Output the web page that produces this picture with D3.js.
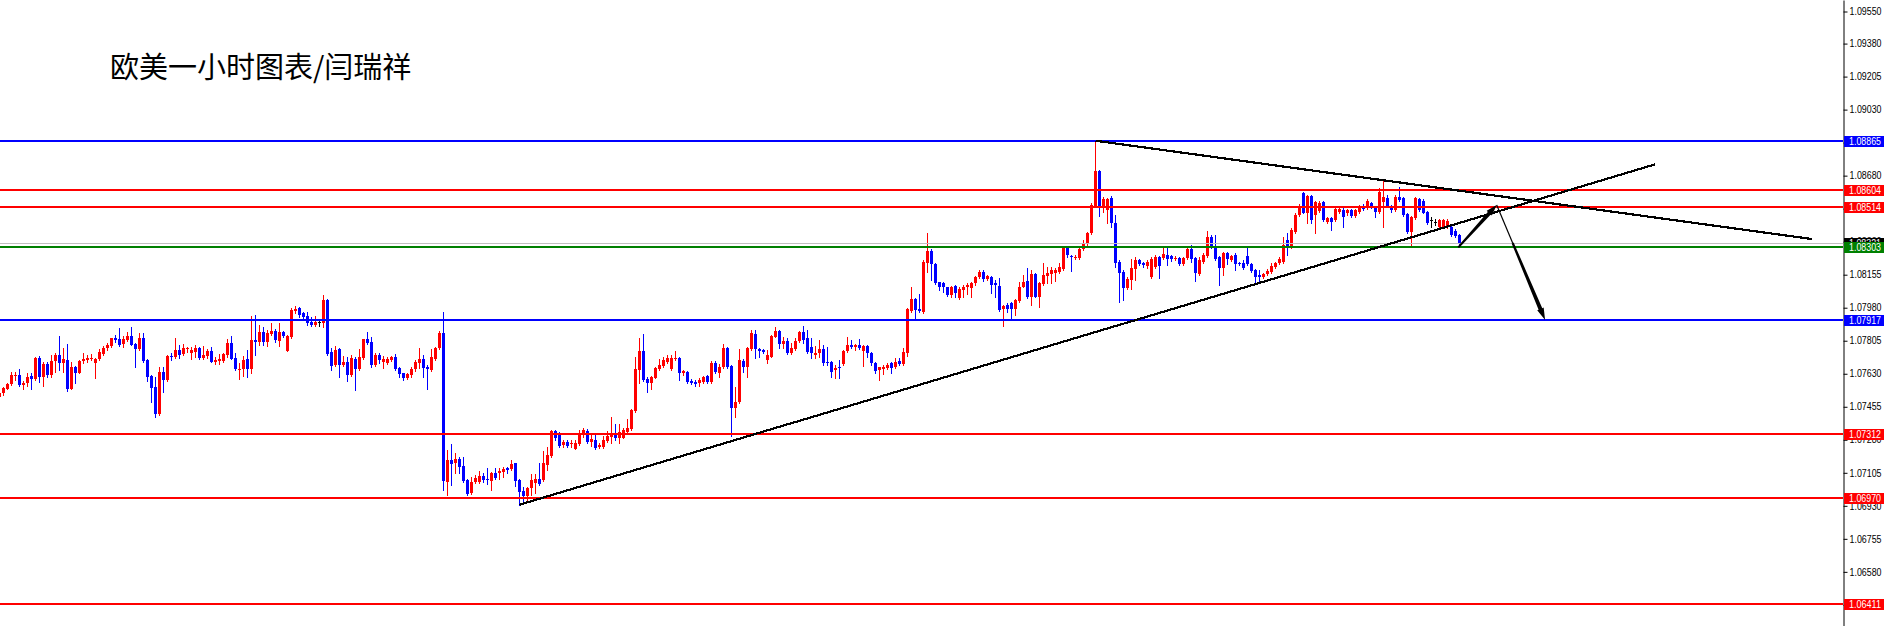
<!DOCTYPE html>
<html><head><meta charset="utf-8">
<script src="https://cdn.jsdelivr.net/npm/d3@7"></script>
<style>html,body{margin:0;padding:0;background:#fff;overflow:hidden}</style>
</head><body>
<svg id="c" width="1884" height="626"></svg>
<script>
const openP = [
1.07509,1.07526,1.07551,1.07576,1.07620,1.07623,1.07572,1.07579,1.07618,1.07601,
1.07712,1.07615,1.07682,1.07623,1.07698,1.07729,1.07689,1.07703,1.07551,1.07664,
1.07636,1.07698,1.07703,1.07708,1.07689,1.07707,1.07735,1.07765,1.07777,1.07821,
1.07813,1.07786,1.07809,1.07830,1.07788,1.07760,1.07820,1.07703,1.07618,1.07558,
1.07417,1.07639,1.07597,1.07724,1.07717,1.07756,1.07733,1.07760,1.07742,1.07747,
1.07768,1.07715,1.07724,1.07751,1.07694,1.07699,1.07699,1.07729,1.07793,1.07714,
1.07654,1.07654,1.07708,1.07654,1.07809,1.07800,1.07853,1.07800,1.07841,1.07858,
1.07805,1.07851,1.07752,1.07823,1.07961,1.07980,1.07950,1.07936,1.07906,1.07889,
1.07903,1.07901,1.08021,1.07745,1.07675,1.07760,1.07677,1.07694,1.07623,1.07710,
1.07655,1.07714,1.07814,1.07798,1.07677,1.07729,1.07694,1.07685,1.07703,1.07717,
1.07659,1.07632,1.07606,1.07623,1.07654,1.07689,1.07708,1.07668,1.07650,1.07710,
1.07765,1.07844,1.07058,1.07173,1.07155,1.07178,1.07141,1.07067,1.06996,1.07056,
1.07058,1.07088,1.07072,1.07063,1.07106,1.07102,1.07109,1.07132,1.07123,1.07155,
1.07067,1.07009,1.06982,1.07023,1.07049,1.07072,1.07067,1.07146,1.07196,1.07327,
1.07305,1.07253,1.07270,1.07258,1.07233,1.07258,1.07311,1.07328,1.07270,1.07279,
1.07242,1.07242,1.07275,1.07293,1.07314,1.07288,1.07291,1.07323,1.07337,1.07433,
1.07650,1.07751,1.07604,1.07583,1.07609,1.07655,1.07673,1.07694,1.07655,1.07710,
1.07715,1.07636,1.07641,1.07592,1.07588,1.07579,1.07588,1.07618,1.07588,1.07689,
1.07636,1.07668,1.07768,1.07671,1.07450,1.07482,1.07700,1.07668,1.07760,1.07839,
1.07760,1.07756,1.07703,1.07721,1.07827,1.07857,1.07788,1.07805,1.07742,1.07760,
1.07805,1.07853,1.07818,1.07774,1.07730,1.07738,1.07761,1.07694,1.07692,1.07650,
1.07668,1.07682,1.07751,1.07782,1.07774,1.07782,1.07751,1.07777,1.07742,1.07689,
1.07650,1.07654,1.07659,1.07685,1.07668,1.07699,1.07682,1.07738,1.07964,1.08026,
1.07973,1.07959,1.08219,1.08282,1.08212,1.08115,1.08109,1.08088,1.08047,1.08095,
1.08030,1.08074,1.08088,1.08083,1.08109,1.08141,1.08171,1.08130,1.08145,1.08109,
1.08095,1.07972,1.07994,1.08003,1.07973,1.08016,1.08092,1.08123,1.08039,1.08159,
1.08039,1.08104,1.08148,1.08159,1.08162,1.08171,1.08184,1.08295,1.08254,1.08247,
1.08242,1.08290,1.08316,1.08374,1.08516,1.08705,1.08516,1.08498,1.08563,1.08427,
1.08224,1.08171,1.08083,1.08127,1.08184,1.08233,1.08215,1.08201,1.08145,1.08198,
1.08247,1.08242,1.08260,1.08254,1.08240,1.08244,1.08212,1.08242,1.08290,1.08242,
1.08159,1.08224,1.08254,1.08357,1.08304,1.08247,1.08189,1.08268,1.08233,1.08260,
1.08219,1.08215,1.08254,1.08212,1.08180,1.08154,1.08145,1.08159,1.08171,1.08198,
1.08215,1.08221,1.08339,1.08304,1.08383,1.08472,1.08586,1.08484,1.08572,1.08472,
1.08493,1.08542,1.08436,1.08454,1.08445,1.08489,1.08498,1.08480,1.08498,1.08466,
1.08489,1.08516,1.08507,1.08537,1.08516,1.08489,1.08542,1.08560,1.08519,1.08498,
1.08569,1.08560,1.08477,1.08383,1.08454,1.08555,1.08548,1.08489,1.08443,1.08436,
1.08410,1.08410,1.08410,1.08410,1.08389,1.08366];
const highP = [
1.07535,1.07562,1.07583,1.07639,1.07639,1.07657,1.07594,1.07632,1.07632,1.07717,
1.07724,1.07694,1.07694,1.07729,1.07738,1.07830,1.07765,1.07788,1.07692,1.07671,
1.07703,1.07738,1.07729,1.07733,1.07712,1.07760,1.07777,1.07791,1.07821,1.07834,
1.07873,1.07830,1.07853,1.07880,1.07795,1.07848,1.07848,1.07710,1.07623,1.07615,
1.07668,1.07664,1.07729,1.07738,1.07818,1.07782,1.07788,1.07774,1.07774,1.07782,
1.07770,1.07777,1.07763,1.07770,1.07721,1.07733,1.07742,1.07816,1.07830,1.07738,
1.07685,1.07724,1.07756,1.07936,1.07942,1.07889,1.07880,1.07862,1.07901,1.07867,
1.07897,1.07858,1.07834,1.07977,1.07989,1.07982,1.07959,1.07959,1.07933,1.07936,
1.07915,1.08048,1.08025,1.07765,1.07777,1.07765,1.07724,1.07721,1.07729,1.07721,
1.07760,1.07816,1.07853,1.07823,1.07742,1.07738,1.07724,1.07717,1.07724,1.07735,
1.07668,1.07636,1.07632,1.07664,1.07703,1.07765,1.07729,1.07677,1.07760,1.07774,
1.07857,1.07957,1.07226,1.07258,1.07208,1.07191,1.07191,1.07072,1.07085,1.07094,
1.07116,1.07102,1.07129,1.07111,1.07129,1.07132,1.07138,1.07138,1.07173,1.07159,
1.07072,1.07032,1.07032,1.07099,1.07097,1.07155,1.07222,1.07244,1.07332,1.07330,
1.07323,1.07279,1.07279,1.07279,1.07279,1.07332,1.07341,1.07335,1.07305,1.07305,
1.07261,1.07300,1.07328,1.07403,1.07364,1.07364,1.07341,1.07392,1.07442,1.07717,
1.07818,1.07839,1.07611,1.07618,1.07668,1.07708,1.07717,1.07730,1.07730,1.07752,
1.07721,1.07650,1.07646,1.07601,1.07597,1.07606,1.07618,1.07623,1.07700,1.07700,
1.07682,1.07788,1.07774,1.07677,1.07562,1.07760,1.07707,1.07774,1.07862,1.07862,
1.07765,1.07763,1.07756,1.07835,1.07880,1.07862,1.07827,1.07818,1.07791,1.07818,
1.07859,1.07883,1.07862,1.07818,1.07777,1.07809,1.07782,1.07774,1.07699,1.07676,
1.07703,1.07756,1.07823,1.07809,1.07788,1.07813,1.07782,1.07782,1.07747,1.07694,
1.07668,1.07676,1.07685,1.07694,1.07712,1.07712,1.07765,1.07977,1.08088,1.08030,
1.08051,1.08233,1.08378,1.08290,1.08219,1.08118,1.08118,1.08092,1.08095,1.08099,
1.08088,1.08101,1.08109,1.08118,1.08148,1.08180,1.08180,1.08154,1.08148,1.08127,
1.08136,1.07994,1.08003,1.08012,1.08025,1.08118,1.08154,1.08189,1.08180,1.08162,
1.08118,1.08215,1.08194,1.08198,1.08189,1.08215,1.08304,1.08304,1.08260,1.08260,
1.08295,1.08339,1.08383,1.08533,1.08865,1.08710,1.08569,1.08563,1.08574,1.08472,
1.08233,1.08180,1.08141,1.08237,1.08247,1.08237,1.08222,1.08233,1.08247,1.08260,
1.08254,1.08300,1.08300,1.08260,1.08254,1.08251,1.08247,1.08295,1.08313,1.08247,
1.08247,1.08268,1.08389,1.08366,1.08366,1.08254,1.08277,1.08277,1.08260,1.08268,
1.08224,1.08233,1.08300,1.08219,1.08185,1.08180,1.08166,1.08184,1.08219,1.08224,
1.08247,1.08357,1.08374,1.08401,1.08480,1.08530,1.08595,1.08578,1.08578,1.08548,
1.08548,1.08548,1.08459,1.08459,1.08507,1.08512,1.08507,1.08502,1.08505,1.08505,
1.08525,1.08530,1.08555,1.08542,1.08519,1.08613,1.08654,1.08578,1.08525,1.08578,
1.08618,1.08569,1.08484,1.08466,1.08569,1.08560,1.08555,1.08494,1.08463,1.08449,
1.08449,1.08449,1.08449,1.08418,1.08396,1.08371];
const lowP = [
1.07505,1.07519,1.07548,1.07572,1.07597,1.07565,1.07551,1.07565,1.07551,1.07597,
1.07586,1.07565,1.07615,1.07611,1.07641,1.07650,1.07641,1.07540,1.07548,1.07579,
1.07632,1.07689,1.07692,1.07703,1.07609,1.07703,1.07729,1.07756,1.07770,1.07798,
1.07777,1.07770,1.07804,1.07781,1.07668,1.07756,1.07694,1.07594,1.07482,1.07403,
1.07413,1.07535,1.07594,1.07703,1.07714,1.07712,1.07728,1.07747,1.07708,1.07721,
1.07710,1.07710,1.07715,1.07691,1.07680,1.07682,1.07694,1.07721,1.07707,1.07650,
1.07602,1.07618,1.07615,1.07632,1.07729,1.07782,1.07782,1.07777,1.07836,1.07800,
1.07777,1.07823,1.07749,1.07818,1.07954,1.07933,1.07919,1.07889,1.07883,1.07883,
1.07885,1.07880,1.07729,1.07650,1.07671,1.07615,1.07673,1.07594,1.07618,1.07544,
1.07650,1.07710,1.07788,1.07664,1.07671,1.07685,1.07659,1.07682,1.07699,1.07650,
1.07611,1.07597,1.07602,1.07615,1.07646,1.07659,1.07611,1.07551,1.07646,1.07703,
1.07760,1.07014,1.06988,1.07041,1.07106,1.07106,1.07058,1.06989,1.06993,1.07053,
1.07053,1.07058,1.07046,1.07014,1.07072,1.07070,1.07085,1.07102,1.07120,1.07035,
1.06936,1.06952,1.06961,1.06988,1.06996,1.07041,1.07063,1.07120,1.07191,1.07279,
1.07240,1.07244,1.07244,1.07240,1.07231,1.07253,1.07297,1.07265,1.07247,1.07231,
1.07235,1.07238,1.07270,1.07261,1.07279,1.07265,1.07288,1.07320,1.07334,1.07429,
1.07579,1.07593,1.07535,1.07548,1.07606,1.07650,1.07668,1.07685,1.07650,1.07703,
1.07597,1.07623,1.07583,1.07576,1.07565,1.07565,1.07583,1.07583,1.07583,1.07636,
1.07611,1.07662,1.07659,1.07300,1.07399,1.07477,1.07641,1.07615,1.07756,1.07712,
1.07717,1.07738,1.07685,1.07717,1.07823,1.07765,1.07765,1.07735,1.07735,1.07756,
1.07800,1.07791,1.07738,1.07712,1.07712,1.07717,1.07676,1.07676,1.07615,1.07606,
1.07606,1.07678,1.07747,1.07765,1.07756,1.07760,1.07671,1.07721,1.07676,1.07636,
1.07597,1.07629,1.07654,1.07636,1.07659,1.07676,1.07676,1.07724,1.07959,1.07919,
1.07959,1.07954,1.08171,1.08127,1.08106,1.08074,1.08065,1.08042,1.08039,1.08039,
1.08026,1.08039,1.08053,1.08039,1.08101,1.08136,1.08123,1.08127,1.08056,1.08039,
1.07964,1.07883,1.07959,1.07924,1.07942,1.08012,1.08088,1.08030,1.07994,1.08035,
1.07982,1.08101,1.08109,1.08109,1.08123,1.08166,1.08180,1.08251,1.08177,1.08237,
1.08237,1.08286,1.08313,1.08371,1.08512,1.08468,1.08489,1.08431,1.08410,1.08198,
1.08012,1.08021,1.08078,1.08078,1.08127,1.08207,1.08198,1.08189,1.08136,1.08192,
1.08136,1.08237,1.08207,1.08230,1.08233,1.08207,1.08207,1.08237,1.08224,1.08122,
1.08154,1.08219,1.08251,1.08295,1.08233,1.08101,1.08154,1.08212,1.08230,1.08180,
1.08205,1.08184,1.08207,1.08171,1.08118,1.08109,1.08136,1.08154,1.08166,1.08192,
1.08212,1.08215,1.08260,1.08298,1.08378,1.08466,1.08480,1.08427,1.08427,1.08374,
1.08487,1.08442,1.08431,1.08392,1.08442,1.08484,1.08410,1.08472,1.08459,1.08459,
1.08484,1.08498,1.08502,1.08507,1.08463,1.08484,1.08410,1.08512,1.08489,1.08494,
1.08548,1.08466,1.08374,1.08313,1.08449,1.08494,1.08480,1.08424,1.08410,1.08418,
1.08406,1.08406,1.08401,1.08360,1.08353,1.08318];
const closeP = [
1.07530,1.07555,1.07576,1.07622,1.07623,1.07572,1.07583,1.07615,1.07601,1.07715,
1.07615,1.07682,1.07623,1.07698,1.07729,1.07689,1.07707,1.07551,1.07664,1.07636,
1.07698,1.07710,1.07715,1.07715,1.07708,1.07745,1.07768,1.07781,1.07818,1.07809,
1.07782,1.07814,1.07830,1.07784,1.07760,1.07820,1.07699,1.07615,1.07556,1.07417,
1.07639,1.07597,1.07724,1.07721,1.07756,1.07729,1.07768,1.07767,1.07756,1.07765,
1.07715,1.07728,1.07749,1.07694,1.07703,1.07707,1.07735,1.07795,1.07708,1.07655,
1.07657,1.07703,1.07654,1.07809,1.07800,1.07853,1.07800,1.07848,1.07858,1.07809,
1.07851,1.07830,1.07830,1.07968,1.07973,1.07942,1.07929,1.07897,1.07889,1.07906,
1.07903,1.08021,1.07735,1.07671,1.07756,1.07677,1.07694,1.07623,1.07715,1.07655,
1.07717,1.07814,1.07795,1.07677,1.07729,1.07703,1.07707,1.07710,1.07721,1.07657,
1.07629,1.07606,1.07627,1.07655,1.07691,1.07707,1.07659,1.07654,1.07717,1.07765,
1.07846,1.07063,1.07173,1.07152,1.07178,1.07138,1.07062,1.06993,1.07058,1.07079,
1.07088,1.07067,1.07065,1.07106,1.07079,1.07115,1.07127,1.07120,1.07150,1.07063,
1.07005,1.06982,1.07026,1.07067,1.07071,1.07046,1.07155,1.07199,1.07327,1.07291,
1.07249,1.07270,1.07249,1.07265,1.07261,1.07314,1.07332,1.07270,1.07284,1.07235,
1.07253,1.07279,1.07300,1.07311,1.07288,1.07320,1.07332,1.07343,1.07438,1.07655,
1.07751,1.07597,1.07583,1.07615,1.07662,1.07677,1.07703,1.07712,1.07712,1.07714,
1.07636,1.07643,1.07588,1.07579,1.07576,1.07597,1.07615,1.07588,1.07685,1.07641,
1.07668,1.07768,1.07668,1.07450,1.07482,1.07703,1.07668,1.07765,1.07844,1.07761,
1.07749,1.07747,1.07730,1.07830,1.07857,1.07788,1.07804,1.07742,1.07765,1.07805,
1.07853,1.07809,1.07747,1.07738,1.07742,1.07761,1.07685,1.07685,1.07641,1.07662,
1.07659,1.07752,1.07782,1.07770,1.07782,1.07765,1.07779,1.07738,1.07685,1.07646,
1.07664,1.07668,1.07676,1.07659,1.07694,1.07682,1.07747,1.07973,1.08026,1.07968,
1.07963,1.08224,1.08282,1.08212,1.08113,1.08092,1.08088,1.08047,1.08092,1.08056,
1.08079,1.08092,1.08101,1.08109,1.08145,1.08171,1.08130,1.08148,1.08101,1.08101,
1.07968,1.07989,1.07972,1.07973,1.08021,1.08092,1.08118,1.08039,1.08159,1.08039,
1.08109,1.08154,1.08162,1.08180,1.08180,1.08194,1.08295,1.08260,1.08247,1.08251,
1.08290,1.08325,1.08374,1.08525,1.08705,1.08516,1.08556,1.08556,1.08427,1.08219,
1.08166,1.08083,1.08132,1.08189,1.08233,1.08212,1.08207,1.08222,1.08237,1.08247,
1.08201,1.08265,1.08237,1.08237,1.08245,1.08212,1.08242,1.08290,1.08237,1.08162,
1.08233,1.08260,1.08357,1.08304,1.08237,1.08189,1.08268,1.08237,1.08254,1.08212,
1.08212,1.08189,1.08212,1.08177,1.08145,1.08141,1.08159,1.08177,1.08201,1.08219,
1.08237,1.08313,1.08304,1.08392,1.08472,1.08516,1.08484,1.08572,1.08445,1.08542,
1.08537,1.08445,1.08454,1.08436,1.08503,1.08503,1.08463,1.08498,1.08466,1.08498,
1.08512,1.08502,1.08548,1.08512,1.08489,1.08595,1.08569,1.08519,1.08498,1.08569,
1.08551,1.08472,1.08383,1.08459,1.08560,1.08498,1.08484,1.08427,1.08443,1.08436,
1.08445,1.08445,1.08442,1.08366,1.08360,1.08321];

const levelPrices = [1.08865, 1.08604, 1.08514, 1.08303, 1.07917, 1.07312, 1.06970, 1.06411];
const levelKinds  = ['blue', 'red', 'red', 'green', 'blue', 'red', 'red', 'red'];
const bidPrice = 1.08321;
const tickValues = [1.09550, 1.09380, 1.09205, 1.09030, 1.08855, 1.08680, 1.08505, 1.08330, 1.08155,
  1.07980, 1.07805, 1.07630, 1.07455, 1.07280, 1.07105, 1.06930, 1.06755, 1.06580, 1.06405];
// trend lines: [barIndex0, price0, barIndex1, price1]
const trendLines = [[130, 1.06936, 413.9, 1.08740], [274, 1.08865, 453.1, 1.08344]];
const arrowUp = [[364.7, 1.08300], [374.3, 1.08524]];
const arrowDown = [[374.3, 1.08524], [386.4, 1.07915]];
const titleText = "欧美一小时图表/闫瑞祥";
const priceView = [1.06293, 1.09611];
const barView = [0, 365];

const W = 1884, H = 626, axisX = 1843;
const colorOf = {red: '#ff0000', blue: '#0000ff', green: '#008000'};
const svg = d3.select('#c');
svg.append('rect').attr('width', W).attr('height', H).attr('fill', '#fff');

const x = d3.scaleLinear().domain(barView).range([-1, 1459]);
const y = d3.scaleLinear().domain(priceView).range([H, 0]);
const px = i => x(i) + 0.5;

svg.append('clipPath').attr('id', 'pc').append('rect').attr('width', axisX).attr('height', H);
const plot = svg.append('g').attr('clip-path', 'url(#pc)');

const idx = d3.range(closeP.length);
const col = i => closeP[i] > openP[i] ? '#ff0000' : (closeP[i] < openP[i] ? '#0000ff' : '#000000');
const cg = plot.append('g').attr('shape-rendering', 'crispEdges');
cg.selectAll('rect.wick').data(idx).join('rect').attr('class', 'wick')
  .attr('x', i => x(i)).attr('width', 1)
  .attr('y', i => Math.round(y(highP[i])))
  .attr('height', i => Math.max(1, Math.round(y(lowP[i])) - Math.round(y(highP[i])) + 1))
  .attr('fill', col);
cg.selectAll('rect.body').data(idx).join('rect').attr('class', 'body')
  .attr('x', i => x(i) - 1).attr('width', 3)
  .attr('y', i => Math.round(y(Math.max(openP[i], closeP[i]))))
  .attr('height', i => Math.max(1, Math.round(y(Math.min(openP[i], closeP[i]))) - Math.round(y(Math.max(openP[i], closeP[i])))))
  .attr('fill', col);

// bid line
plot.append('rect').attr('x', 0).attr('width', axisX).attr('y', Math.round(y(bidPrice)))
  .attr('height', 1).attr('fill', '#c0c0c0').attr('shape-rendering', 'crispEdges');
// level lines
plot.selectAll('rect.lvl').data(levelPrices).join('rect').attr('class', 'lvl')
  .attr('x', 0).attr('width', axisX)
  .attr('y', d => Math.round(y(d)) - 1).attr('height', 2)
  .attr('fill', (d, k) => colorOf[levelKinds[k]]).attr('shape-rendering', 'crispEdges');

// trend lines
plot.selectAll('line.tl').data(trendLines).join('line').attr('class', 'tl')
  .attr('x1', d => px(d[0])).attr('y1', d => y(d[1]))
  .attr('x2', d => px(d[2])).attr('y2', d => y(d[3]))
  .attr('stroke', '#000').attr('stroke-width', 2.2).attr('shape-rendering', 'crispEdges');

function arrow(p0, p1, thinFrac, w0, w1, hl, hw) {
  const x0 = px(p0[0]), y0 = y(p0[1]), x1 = px(p1[0]), y1 = y(p1[1]);
  const dx = x1 - x0, dy = y1 - y0, len = Math.hypot(dx, dy);
  const ux = dx / len, uy = dy / len, nx = -uy, ny = ux;
  const g = plot.append('g');
  const sx = x0 + dx * thinFrac, sy = y0 + dy * thinFrac;
  if (thinFrac > 0) {
    g.append('line').attr('x1', x0).attr('y1', y0).attr('x2', sx).attr('y2', sy)
      .attr('stroke', '#000').attr('stroke-width', 1.2);
  }
  const bx = x1 - ux * hl, by = y1 - uy * hl;
  const pts = [
    [sx + nx * w0 / 2, sy + ny * w0 / 2], [bx + nx * w1 / 2, by + ny * w1 / 2],
    [bx + nx * hw / 2, by + ny * hw / 2], [x1, y1],
    [bx - nx * hw / 2, by - ny * hw / 2], [bx - nx * w1 / 2, by - ny * w1 / 2],
    [sx - nx * w0 / 2, sy - ny * w0 / 2]];
  g.append('polygon').attr('points', pts.map(p => p.join(',')).join(' ')).attr('fill', '#000');
}
arrow(arrowUp[0], arrowUp[1], 0, 2, 4, 11, 7);
arrow(arrowDown[0], arrowDown[1], 0.33, 2.2, 4, 12, 7);

// axis
const axis = d3.axisRight(y).tickValues(tickValues).tickFormat(d3.format('.5f'))
  .tickSize(4).tickSizeOuter(0).tickPadding(2);
const ag = svg.append('g').attr('transform', `translate(${axisX + 0.5},0)`).call(axis)
  .attr('font-family', 'Liberation Sans, Arial, sans-serif').attr('font-size', 10);
ag.select('.domain').attr('stroke', '#000');
ag.selectAll('.tick line').attr('stroke', '#000');
ag.selectAll('.tick text').attr('fill', '#000').attr('textLength', 32).attr('lengthAdjust', 'spacingAndGlyphs');

// price labels
const labels = [{p: bidPrice, c: '#000000'}].concat(levelPrices.map((p, k) => ({p, c: colorOf[levelKinds[k]]})));
const lg = svg.append('g');
labels.forEach(d => {
  const yy = Math.round(y(d.p));
  lg.append('rect').attr('x', axisX + 1).attr('y', yy - 5).attr('width', 40).attr('height', 11)
    .attr('fill', d.c).attr('shape-rendering', 'crispEdges');
  lg.append('text').attr('x', axisX + 6).attr('y', yy).attr('dy', '0.36em')
    .attr('font-family', 'Liberation Sans, Arial, sans-serif').attr('font-size', 10)
    .attr('fill', '#fff').attr('textLength', 32).attr('lengthAdjust', 'spacingAndGlyphs')
    .text(d3.format('.5f')(d.p));
});

// title
svg.append('text').attr('x', 110).attr('y', 65).attr('dominant-baseline', 'central')
  .attr('font-family', 'Noto Sans CJK SC, sans-serif').attr('font-size', 29).attr('fill', '#000')
  .text(titleText);
</script>
</body></html>
